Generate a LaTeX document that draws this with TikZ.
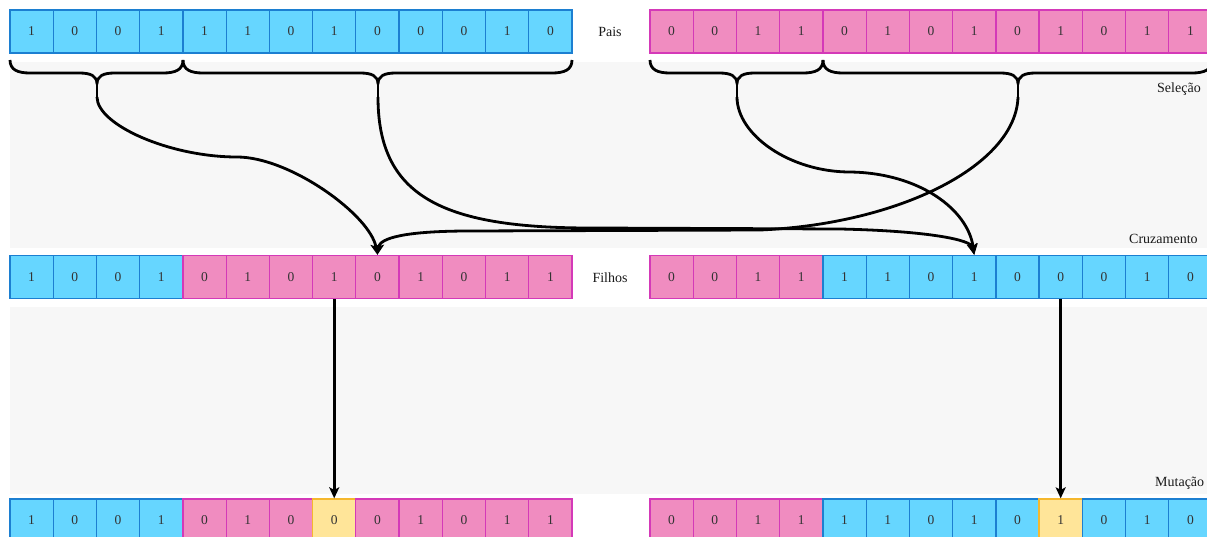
\documentclass[tikz,border=0pt]{standalone}
\usepackage{fontspec}
\setmainfont{Liberation Serif}
\usetikzlibrary{arrows.meta}
\definecolor{bfill}{HTML}{66D6FF}
\definecolor{bdraw}{HTML}{1C7FD1}
\definecolor{pfill}{HTML}{F08CC0}
\definecolor{pdraw}{HTML}{D439B8}
\definecolor{yfill}{HTML}{FFE599}
\definecolor{ydraw}{HTML}{F5B82E}
\definecolor{band}{HTML}{F7F7F7}
\definecolor{txt}{HTML}{333333}
\newcommand\mybrace[3]{%
  \draw[bracestyle] (#1,60) .. controls (#1,70) and ({#1+8},73) .. ({#1+20},73)
    -- ({#3-18},73) .. controls ({#3-6},73) and (#3,76) .. (#3,84)
    .. controls (#3,76) and ({#3+6},73) .. ({#3+18},73)
    -- ({#2-20},73) .. controls ({#2-8},73) and (#2,70) .. (#2,60);
  \draw[bracestyle] (#3,80) -- (#3,97);}
\begin{document}
\begin{tikzpicture}[x=1pt,y=-1pt,
  cell/.style={minimum width=43.23pt, minimum height=43pt, inner sep=0pt,
    line width=1.3pt, font=\fontsize{13.5}{13.5}\selectfont, text=txt},
  lab/.style={font=\fontsize{14}{14}\selectfont, text=black!90, inner sep=0pt},
  bracestyle/.style={line width=2.8pt, line join=round},
  link/.style={line width=2.8pt, -{Stealth[length=11pt,width=10pt,inset=2.5pt]}},
]
\useasboundingbox (0,0) rectangle (1207,537);
\clip (0,0) rectangle (1207,537);
% background bands
\fill[band] (10,62) rectangle (1207,248);
\fill[band] (10,307) rectangle (1207,494);
% parents
\foreach \v/\s [count=\i from 0] in {1/b,0/b,0/b,1/b,1/b,1/b,0/b,1/b,0/b,0/b,0/b,1/b,0/b}
  \node[cell, fill=\s fill, draw=\s draw] (pa-\i) at ({10+43.23*(\i+0.5)},31.5) {\v};
\foreach \v/\s [count=\i from 0] in {0/p,0/p,1/p,1/p,0/p,1/p,0/p,1/p,0/p,1/p,0/p,1/p,1/p}
  \node[cell, fill=\s fill, draw=\s draw] (pb-\i) at ({650+43.23*(\i+0.5)},31.5) {\v};
% children
\foreach \v/\s [count=\i from 0] in {1/b,0/b,0/b,1/b,0/p,1/p,0/p,1/p,0/p,1/p,0/p,1/p,1/p}
  \node[cell, fill=\s fill, draw=\s draw] (ca-\i) at ({10+43.23*(\i+0.5)},277) {\v};
\foreach \v/\s [count=\i from 0] in {0/p,0/p,1/p,1/p,1/b,1/b,0/b,1/b,0/b,0/b,0/b,1/b,0/b}
  \node[cell, fill=\s fill, draw=\s draw] (cb-\i) at ({650+43.23*(\i+0.5)},277) {\v};
% mutated
\foreach \v/\s [count=\i from 0] in {1/b,0/b,0/b,1/b,0/p,1/p,0/p,0/y,0/p,1/p,0/p,1/p,1/p}
  \node[cell, fill=\s fill, draw=\s draw] (ma-\i) at ({10+43.23*(\i+0.5)},520.5) {\v};
\foreach \v/\s [count=\i from 0] in {0/p,0/p,1/p,1/p,1/b,1/b,0/b,1/b,0/b,1/y,0/b,1/b,0/b}
  \node[cell, fill=\s fill, draw=\s draw] (mb-\i) at ({650+43.23*(\i+0.5)},520.5) {\v};
% labels
\node[lab] (pais) at (610,32) {Pais};
\node[lab] (filhos) at (610,278) {Filhos};
\node[lab, anchor=west] (selecao) at (1157,89) {Seleção};
\node[lab, anchor=west] (cruz) at (1129,239) {Cruzamento};
\node[lab, anchor=west] (mut) at (1155,483) {Mutação};
% braces
\mybrace{10}{183}{97}
\mybrace{183}{572}{378}
\mybrace{650}{823}{737}
\mybrace{823}{1212}{1018}
\coordinate (ta1) at (97,97);
\coordinate (ta2) at (378,97);
\coordinate (tb1) at (737,97);
\coordinate (tb2) at (1018,97);
% crossover connectors
\draw[link] (ta1) .. controls (97,125) and (170,157) .. (237,157)
  .. controls (290,157) and (370,215) .. (ca-8.north);
\draw[link] (ta2) .. controls (378,195) and (440,228) .. (590,228)
  -- (840,229) .. controls (930,231) and (971,240) .. (cb-7.north);
\draw[link] (tb1) .. controls (737,135) and (790,172) .. (850,172)
  .. controls (920,173) and (968,210) .. (cb-7.north);
\draw[link] (tb2) .. controls (1016,165) and (900,224) .. (760,230)
  -- (470,231) .. controls (405,231) and (380,238) .. (ca-8.north);
% mutation connectors
\draw[link] (ca-7.south) -- (ma-7.north);
\draw[link] (cb-9.south) -- (mb-9.north);
\end{tikzpicture}
\end{document}
